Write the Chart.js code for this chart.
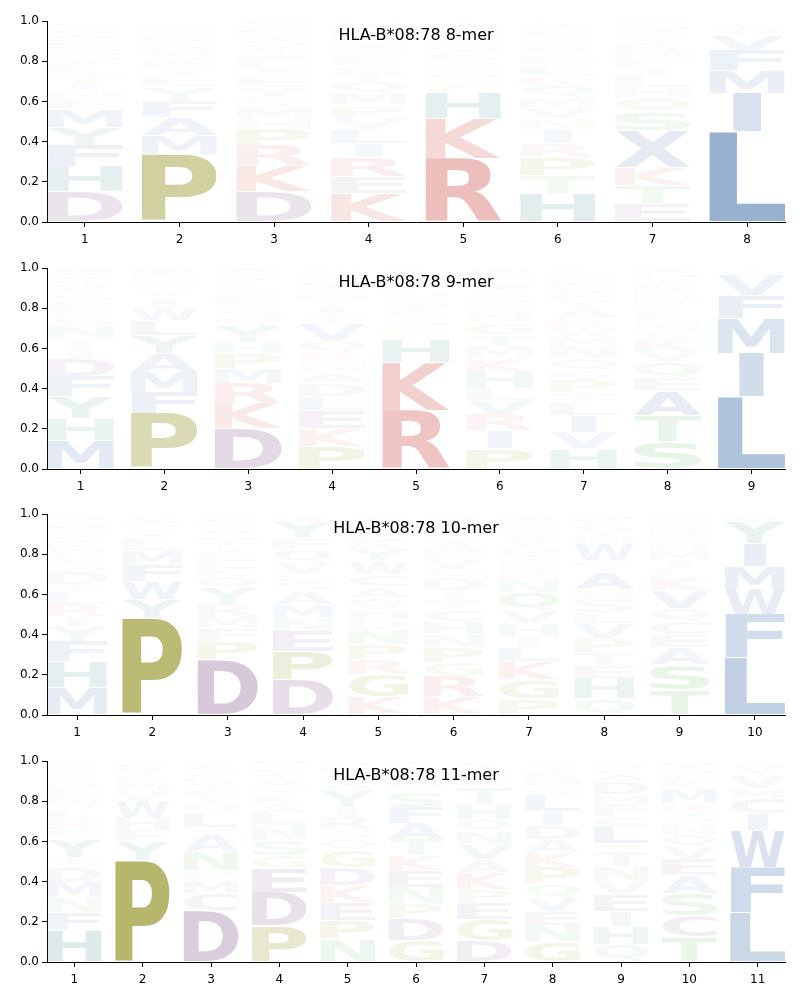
<!DOCTYPE html>
<html>
<head>
<meta charset="utf-8">
<script src="https://cdn.jsdelivr.net/npm/chart.js@4/dist/chart.umd.min.js"></script>
<style>
  body { margin: 0; background: #fff; }
  .panel { position: absolute; left: 0; width: 800px; height: 247px; }
</style>
</head>
<body>
<div class="panel" style="top:0px"><canvas id="logo8" width="800" height="247"></canvas></div>
<div class="panel" style="top:247px"><canvas id="logo9" width="800" height="247"></canvas></div>
<div class="panel" style="top:493px"><canvas id="logo10" width="800" height="247"></canvas></div>
<div class="panel" style="top:740px"><canvas id="logo11" width="800" height="247"></canvas></div>
<script>
const allele = 'HLA-B*08:78';
const yTicks = [0, 0.2, 0.4, 0.6, 0.8, 1.0];

// letters per position, bottom to top, with their heights
const pos8 = [1, 2, 3, 4, 5, 6, 7, 8];
const letters8 = ['DHFYMENITLVQSKARWG', 'PMAFYLIEVWHKRQSTNDG', 'DKRPHMQYEILFTVASNWGC', 'KERILVPMQTAFYSHNDWG',
                  'RKHPQTYLMSNAVEFI', 'HTPRINVMQKLEYSAFGDWC', 'ETKXSQHLIFMRYVANPW', 'LIMFVWYAT'];
const heights8 = [
  [.15,.125,.105,.09,.09,.05,.04,.04,.05,.04,.04,.03,.03,.03,.03,.03,.02,.01],
  [.335,.095,.09,.08,.07,.05,.04,.035,.03,.03,.025,.02,.02,.02,.015,.015,.01,.01,.01],
  [.15,.13,.10,.08,.05,.06,.05,.05,.05,.04,.04,.03,.03,.03,.025,.025,.02,.015,.015,.01],
  [.14,.085,.095,.07,.07,.06,.06,.06,.06,.05,.04,.04,.035,.03,.03,.025,.02,.015,.015],
  [.317,.198,.13,.05,.045,.04,.035,.03,.03,.025,.025,.02,.02,.015,.01,.01],
  [.14,.09,.09,.07,.07,.055,.055,.05,.06,.05,.05,.04,.04,.03,.03,.025,.02,.015,.01,.01],
  [.09,.09,.09,.185,.095,.07,.05,.06,.04,.04,.04,.035,.03,.025,.02,.015,.015,.01],
  [.45,.19,.115,.10,.075,.04,.015,.01,.005]
];

const pos9 = [1, 2, 3, 4, 5, 6, 7, 8, 9];
const letters9 = ['MHYFDITNSELQKWRVAGC', 'PFMAYLWIVQHRES', 'DKRMPHYQNFEILTVSAW', 'PKELDANRQVTIYMSHFGWC',
                  'RKHPQYTSNLMAVEFI', 'PIRVLHKMTGNQSAEFDWC', 'HVILTPEQNMWRAYKSFGDC', 'STAEQVKCMLIPNRFYHGD', 'LIMFVWYA'];
const heights9 = [
  [.14,.11,.11,.10,.09,.05,.05,.06,.05,.04,.035,.03,.03,.025,.02,.02,.015,.015,.01],
  [.275,.105,.10,.095,.09,.075,.065,.05,.04,.03,.025,.02,.015,.015],
  [.20,.125,.10,.075,.075,.055,.08,.05,.03,.04,.035,.03,.025,.02,.02,.015,.015,.01],
  [.11,.09,.09,.07,.065,.055,.05,.05,.06,.08,.04,.05,.04,.03,.03,.025,.025,.02,.01,.01],
  [.29,.24,.115,.05,.045,.04,.035,.03,.03,.025,.025,.02,.02,.015,.01,.01],
  [.10,.09,.08,.07,.06,.08,.07,.06,.06,.06,.05,.045,.04,.035,.03,.025,.02,.015,.01],
  [.10,.08,.085,.065,.05,.065,.045,.06,.06,.05,.04,.05,.05,.04,.035,.035,.03,.025,.02,.015],
  [.135,.13,.125,.065,.075,.06,.055,.045,.045,.04,.035,.03,.03,.03,.025,.025,.02,.015,.015],
  [.36,.215,.175,.115,.10,.02,.01,.005]
];

const pos10 = [1, 2, 3, 4, 5, 6, 7, 8, 9, 10];
const letters10 = ['MHFYIRLTDSVWKQENAGC', 'PYWFMLIVHEQAR', 'DPFMRYQKELITHVASNGW', 'DPENMASLVQFYKTH', 'KGRPNDHQACWYESLTMVF',
                   'KRGPNHCTIDQVEALMYSWF', 'PGKLIHVQNRETMYASFDWC', 'QHETPVLSNAIRWMYKFDG', 'TSAECQVKLIMHYRNFPD', 'LFWMIYVCA'];
const heights10 = [
  [.135,.13,.10,.075,.05,.06,.06,.04,.06,.04,.04,.04,.035,.03,.03,.025,.02,.015,.015],
  [.48,.095,.09,.085,.07,.06,.03,.025,.02,.015,.01,.01,.01],
  [.275,.09,.065,.06,.06,.08,.06,.04,.04,.035,.03,.03,.025,.025,.02,.02,.015,.015,.015],
  [.175,.14,.10,.065,.07,.065,.05,.035,.06,.065,.055,.08,.02,.01,.01],
  [.09,.11,.075,.075,.075,.05,.05,.055,.06,.06,.065,.06,.04,.035,.03,.025,.02,.015,.01],
  [.09,.10,.07,.075,.065,.065,.06,.05,.045,.06,.05,.05,.04,.04,.04,.03,.025,.02,.015,.01],
  [.08,.095,.09,.07,.055,.065,.065,.09,.06,.05,.04,.035,.035,.035,.03,.03,.025,.02,.015,.015],
  [.08,.10,.065,.065,.07,.075,.055,.07,.045,.085,.03,.03,.08,.04,.035,.03,.02,.015,.01],
  [.125,.125,.085,.065,.065,.065,.09,.065,.045,.04,.05,.04,.035,.03,.025,.02,.015,.015],
  [.285,.215,.125,.115,.115,.11,.02,.01,.005]
];

const pos11 = [1, 2, 3, 4, 5, 6, 7, 8, 9, 10, 11];
const letters11 = ['HFNMDTYQRLWEKSVAIGC', 'PYFHWVMLIREA', 'DCMPNAVLHIEYKFQSTR', 'PDEGSNLAKQVTFYM', 'NPEKDGQSRIYATVLH',
                   'GDPNEKTAFSQLVRI', 'DGEPKAVNQHTRLSIF', 'GNEVQPKADILSMRTY', 'QHIEVNTSLCFMDAKRG', 'TCSAEVQNGRMKLDIH', 'LFWICMVYAT'];
const heights11 = [
  [.155,.09,.075,.08,.07,.05,.09,.05,.05,.05,.04,.035,.035,.03,.025,.025,.02,.015,.015],
  [.505,.095,.06,.06,.08,.05,.04,.035,.025,.02,.015,.015],
  [.255,.085,.065,.05,.095,.08,.04,.07,.04,.04,.035,.035,.03,.025,.02,.015,.01,.01],
  [.18,.165,.12,.065,.08,.07,.06,.05,.045,.04,.035,.03,.025,.02,.015],
  [.11,.095,.09,.085,.09,.085,.055,.05,.06,.05,.08,.04,.035,.03,.025,.02],
  [.105,.11,.075,.08,.085,.075,.08,.08,.08,.08,.04,.035,.03,.025,.02],
  [.105,.105,.085,.065,.085,.065,.075,.065,.06,.075,.085,.035,.03,.025,.02,.02],
  [.10,.08,.07,.07,.07,.08,.075,.065,.07,.07,.08,.04,.04,.035,.03,.025],
  [.085,.09,.075,.085,.065,.075,.075,.04,.085,.05,.06,.05,.065,.035,.03,.02,.015],
  [.125,.105,.11,.09,.08,.065,.06,.055,.05,.05,.07,.04,.035,.025,.02,.02],
  [.245,.225,.185,.085,.075,.05,.065,.04,.02,.01]
];

// residue colours (rgb), opacity follows letter height
const blue = '52,101,164', teal = '40,120,120', red = '200,70,60',
      purple = '120,70,128', olive = '128,128,0', green = '70,170,70';
const aaColor = {
  A: blue, V: blue, L: blue, I: blue, M: blue, F: blue, W: blue, X: '120,145,190',
  H: teal, Y: teal, K: red, R: red, D: purple, E: purple, C: purple,
  P: olive, G: olive, S: green, T: green, N: green, Q: green
};

function inkBox(ctx, ch) {
  const m = ctx.measureText(ch);
  return { l: m.actualBoundingBoxLeft, a: m.actualBoundingBoxAscent,
           w: m.actualBoundingBoxLeft + m.actualBoundingBoxRight,
           h: m.actualBoundingBoxAscent + m.actualBoundingBoxDescent };
}

const logoPlugin = {
  id: 'logoLetters',
  afterDatasetsDraw(chart) {
    const ctx = chart.ctx, area = chart.chartArea;
    ctx.save();
    ctx.beginPath();
    ctx.rect(area.left, area.top, area.right - area.left, area.bottom - area.top);
    ctx.clip();
    ctx.font = 'bold 100px "DejaVu Sans"';
    ctx.textAlign = 'left';
    ctx.textBaseline = 'alphabetic';
    const eW = inkBox(ctx, 'E').w;
    chart.data.datasets.forEach((ds, k) => {
      chart.getDatasetMeta(k).data.forEach((bar, i) => {
        const ch = ds.letters[i];
        const h = ds.data[i].y;
        if (!ch || h <= 0) return;
        const p = bar.getProps(['x', 'y', 'base', 'width'], true);
        const box = inkBox(ctx, ch);
        const top = Math.min(p.y, p.base) + 0.5, bot = Math.max(p.y, p.base) - 0.5;
        const sy = (bot - top) / box.h;
        const sx = p.width / Math.max(box.w, eW);
        const alpha = Math.max(0.02, 1.2 * h - 0.035);
        ctx.save();
        ctx.translate(p.x - box.w * sx / 2, top);
        ctx.scale(sx, sy);
        ctx.fillStyle = 'rgba(' + aaColor[ch] + ',' + alpha.toFixed(3) + ')';
        ctx.fillText(ch, box.l, box.a);
        ctx.restore();
      });
    });
    ctx.restore();

    // title sits inside the axes
    ctx.save();
    ctx.font = '16px "DejaVu Sans"';
    ctx.fillStyle = '#000';
    ctx.textAlign = 'center';
    ctx.textBaseline = 'middle';
    ctx.fillText(chart.options.plugins.logoLetters.title, (area.left + area.right) / 2, area.top + 15);
    ctx.restore();
  }
};

function makeLogo(id, title, positions, letters, heights) {
  const ranks = Math.max(...letters.map(s => s.length));
  const datasets = [];
  for (let k = 0; k < ranks; k++) {
    datasets.push({
      data: positions.map((p, i) => ({ x: p, y: heights[i][k] || 0 })),
      letters: positions.map((p, i) => letters[i][k] || ''),
      backgroundColor: 'rgba(0,0,0,0)',
      borderWidth: 0,
      barPercentage: 0.8,
      categoryPercentage: 1
    });
  }
  const tickFont = { family: 'DejaVu Sans', size: 12 };
  return new Chart(document.getElementById(id), {
    type: 'bar',
    data: { datasets: datasets },
    options: {
      responsive: false,
      animation: false,
      events: [],
      layout: { padding: { left: 0, right: 15, top: 21, bottom: 0 } },
      plugins: {
        legend: { display: false },
        tooltip: { enabled: false },
        logoLetters: { title: title }
      },
      scales: {
        x: {
          type: 'linear',
          stacked: true,
          offset: false,
          min: positions[0] - 0.4,
          max: positions[positions.length - 1] + 0.4,
          afterBuildTicks: s => { s.ticks = positions.map(v => ({ value: v })); },
          afterFit: s => { s.height = 25; },
          grid: { offset: false, drawOnChartArea: false, drawTicks: true, tickLength: 5, color: '#000', tickColor: '#000' },
          border: { display: true, color: '#000', width: 1 },
          ticks: { color: '#000', font: tickFont, padding: 6, maxRotation: 0, callback: v => String(v) }
        },
        y: {
          stacked: true,
          min: 0,
          max: 1,
          afterBuildTicks: s => { s.ticks = yTicks.map(v => ({ value: v })); },
          afterFit: s => { s.width = 47; },
          grid: { drawOnChartArea: false, drawTicks: true, tickLength: 5, color: '#000', tickColor: '#000' },
          border: { display: true, color: '#000', width: 1 },
          ticks: { color: '#000', font: tickFont, padding: 3, callback: v => Number(v).toFixed(1) }
        }
      }
    },
    plugins: [logoPlugin]
  });
}

makeLogo('logo8', allele + ' 8-mer', pos8, letters8, heights8);
makeLogo('logo9', allele + ' 9-mer', pos9, letters9, heights9);
makeLogo('logo10', allele + ' 10-mer', pos10, letters10, heights10);
makeLogo('logo11', allele + ' 11-mer', pos11, letters11, heights11);
</script>
</body>
</html>
